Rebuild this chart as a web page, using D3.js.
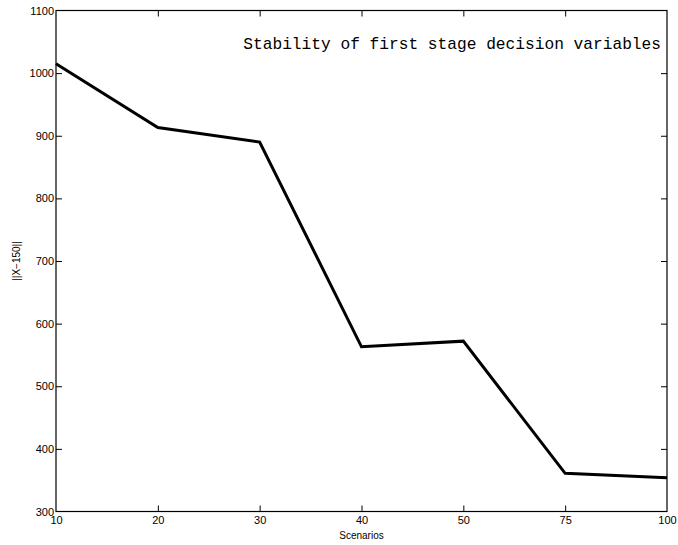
<!DOCTYPE html>
<html>
<head>
<meta charset="utf-8">
<script src="https://cdn.jsdelivr.net/npm/d3@7"></script>
<style>
  html, body { margin: 0; padding: 0; background: #fff; }
  svg { display: block; }
  .tick text { font-family: "Liberation Sans", Arial, sans-serif; font-size: 11px; fill: #000; }
</style>
</head>
<body>
<svg id="chart" width="678" height="545"></svg>
<script>
// Stability of first stage decision variables vs number of scenarios
const scenarios = ['10', '20', '30', '40', '50', '75', '100'];
const normValues = [1015, 913, 890, 563, 572, 361, 354];
const yTicks = [300, 400, 500, 600, 700, 800, 900, 1000, 1100];

const W = 678, H = 545;
const m = { left: 56, right: 11, top: 10.5, bottom: 33.5 };
const iw = W - m.left - m.right;
const ih = H - m.top - m.bottom;

const svg = d3.select('#chart');
const g = svg.append('g').attr('transform', `translate(${m.left},${m.top})`);

const x = d3.scalePoint().domain(scenarios).range([0, iw]);
const y = d3.scaleLinear().domain([300, 1100]).range([ih, 0]);

// box
g.append('rect')
  .attr('width', iw).attr('height', ih)
  .attr('fill', 'none').attr('stroke', '#000').attr('stroke-width', 1.2);

// axes, ticks pointing inward
const xAxis = g.append('g').attr('transform', `translate(0,${ih})`)
  .call(d3.axisBottom(x).tickSizeInner(-6).tickSizeOuter(0).tickPadding(3));
const xTop = g.append('g')
  .call(d3.axisTop(x).tickSizeInner(-6).tickSizeOuter(0).tickFormat(''));
const yAxis = g.append('g')
  .call(d3.axisLeft(y).tickValues(yTicks).tickFormat(d3.format('d'))
    .tickSizeInner(-6).tickSizeOuter(0).tickPadding(3));
const yRight = g.append('g').attr('transform', `translate(${iw},0)`)
  .call(d3.axisRight(y).tickValues(yTicks).tickSizeInner(-6).tickSizeOuter(0).tickFormat(''));

[xAxis, xTop, yAxis, yRight].forEach(a => {
  a.select('.domain').remove();
  a.selectAll('.tick line').attr('stroke', '#000').attr('stroke-width', 1);
});
// tick marks on the box corners are hidden by the frame anyway
xAxis.selectAll('.tick line').filter(d => d === '10' || d === '100').remove();
xTop.selectAll('.tick line').filter(d => d === '10' || d === '100').remove();
yAxis.selectAll('.tick line').filter(d => d === 300 || d === 1100).remove();
yRight.selectAll('.tick line').filter(d => d === 300 || d === 1100).remove();

yAxis.selectAll('.tick text').attr('dx', '1');
xAxis.selectAll('.tick text').attr('dy', '0.85em');

// line
const line = d3.line()
  .x((d, i) => x(scenarios[i]))
  .y(d => y(d));
g.append('path')
  .datum(normValues)
  .attr('d', line)
  .attr('fill', 'none')
  .attr('stroke', '#000')
  .attr('stroke-width', 3)
  .attr('stroke-linejoin', 'miter');

// in-plot title
g.append('text')
  .attr('x', iw - 6).attr('y', 38)
  .attr('text-anchor', 'end')
  .style('font-family', '"Liberation Mono", "DejaVu Sans Mono", monospace')
  .style('font-size', '16.2px')
  .text('Stability of first stage decision variables');

// axis labels
svg.append('text')
  .attr('x', m.left + iw / 2).attr('y', 539)
  .attr('text-anchor', 'middle')
  .style('font-family', '"Liberation Sans", Arial, sans-serif')
  .style('font-size', '10px')
  .text('Scenarios');

svg.append('text')
  .attr('transform', `translate(20,${m.top + ih / 2}) rotate(-90)`)
  .attr('text-anchor', 'middle')
  .style('font-family', '"Liberation Sans", Arial, sans-serif')
  .style('font-size', '10px')
  .text('||X\u2212150||');
</script>
</body>
</html>
